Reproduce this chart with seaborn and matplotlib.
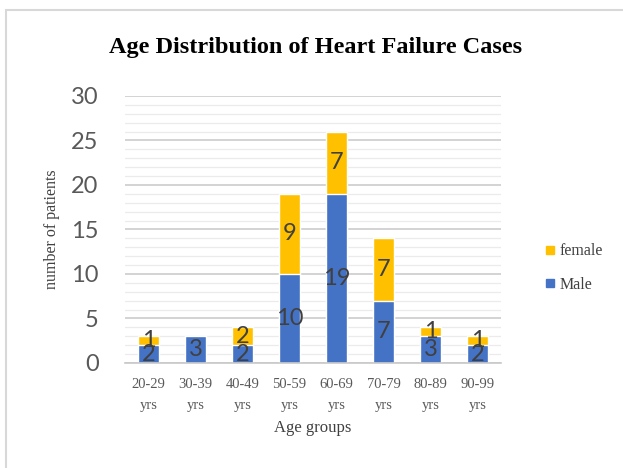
import matplotlib
matplotlib.use("Agg")
import matplotlib.pyplot as plt
import seaborn as sns
import pandas as pd
from matplotlib.lines import Line2D
from matplotlib.patches import Rectangle

categories = ["20-29\nyrs", "30-39\nyrs", "40-49\nyrs", "50-59\nyrs",
              "60-69\nyrs", "70-79\nyrs", "80-89\nyrs", "90-99\nyrs"]
male = [2, 3, 2, 10, 19, 7, 3, 2]
female = [1, 0, 2, 9, 7, 7, 1, 1]
y_ticks = [0, 5, 10, 15, 20, 25, 30]

BLUE = "#4472C4"
GOLD = "#FFC000"

sns.set_theme(style="white")
plt.rcParams['font.family'] = ['DejaVu Sans']

df = pd.DataFrame({"group": categories, "male": male, "female": female})
df["total"] = df["male"] + df["female"]

fig = plt.figure(figsize=(6.23, 4.68), dpi=100)
ax = fig.add_axes([0.2006, 0.2244, 0.6035, 0.5705])

sns.barplot(data=df, x="group", y="total", color=GOLD, width=0.45,
            saturation=1, ax=ax, zorder=3)
sns.barplot(data=df, x="group", y="male", color=BLUE, width=0.45,
            saturation=1, ax=ax, zorder=3)

ax.set_ylim(0, 30)
ax.set_xlim(-0.5, len(categories) - 0.5)
ax.set_yticks(y_ticks)
ax.set_yticks(range(0, 31), minor=True)
ax.yaxis.grid(True, which="major", color="#D0D0D0", linewidth=1.3, zorder=0)
ax.yaxis.grid(True, which="minor", color="#EBEBEB", linewidth=0.9, zorder=0)
ax.set_axisbelow(True)

for s in ["top", "right", "left"]:
    ax.spines[s].set_visible(False)
ax.spines["bottom"].set_color("#C8C8C8")
ax.spines["bottom"].set_linewidth(1.2)
ax.spines["bottom"].set_zorder(4)

ax.set_yticklabels([str(v) for v in y_ticks], fontsize=17, color="#595959",
                   family="Lato")
ax.tick_params(axis="y", which="both", length=0, pad=19)
ax.set_xticks(range(len(categories)))
ax.set_xticklabels(categories, fontsize=10.5, color="#595959",
                   family="Liberation Serif", linespacing=1.75)
ax.set_xticks([i - 0.5 for i in range(len(categories) + 1)], minor=True)
ax.tick_params(axis="x", which="major", length=0, pad=11)
ax.tick_params(axis="x", which="minor", length=4, color="#C8C8C8", width=1.2,
               direction="out")

ax.set_xlabel("Age groups", fontsize=12, family="Liberation Serif",
              color="#404040", labelpad=6)
ax.set_ylabel("number of patients", fontsize=11.5, family="Liberation Serif",
              color="#404040", labelpad=8)

for i, (m, f) in enumerate(zip(male, female)):
    ax.text(i, m / 2, str(m), ha="center", va="center", fontsize=17,
            color="#404040", family="Lato", zorder=5)
    if f > 0:
        ax.text(i, m + f / 2, str(f), ha="center", va="center", fontsize=17,
                color="#404040", family="Lato", zorder=5)

fig.text(0.507, 0.898, "Age Distribution of Heart Failure Cases", ha="center",
         va="center", fontsize=17.5, fontweight="bold",
         family="Liberation Serif", color="#000000")

handles = [Line2D([], [], marker="s", linestyle="", color=GOLD, markersize=6),
           Line2D([], [], marker="s", linestyle="", color=BLUE, markersize=6)]
fig.legend(handles, ["female", "Male"], loc="center left",
           bbox_to_anchor=(0.85, 0.427), frameon=False,
           prop={"family": "Liberation Serif", "size": 11.5},
           labelcolor="#404040", handletextpad=0.2, labelspacing=1.1,
           handlelength=0.8)

fig.patches.append(Rectangle((6 / 623, -0.1), 1.2, 1 - 10 / 468 + 0.1,
                             transform=fig.transFigure, fill=False,
                             edgecolor="#D8D8D8", linewidth=1.5))

fig.savefig("out.png", dpi=100)
